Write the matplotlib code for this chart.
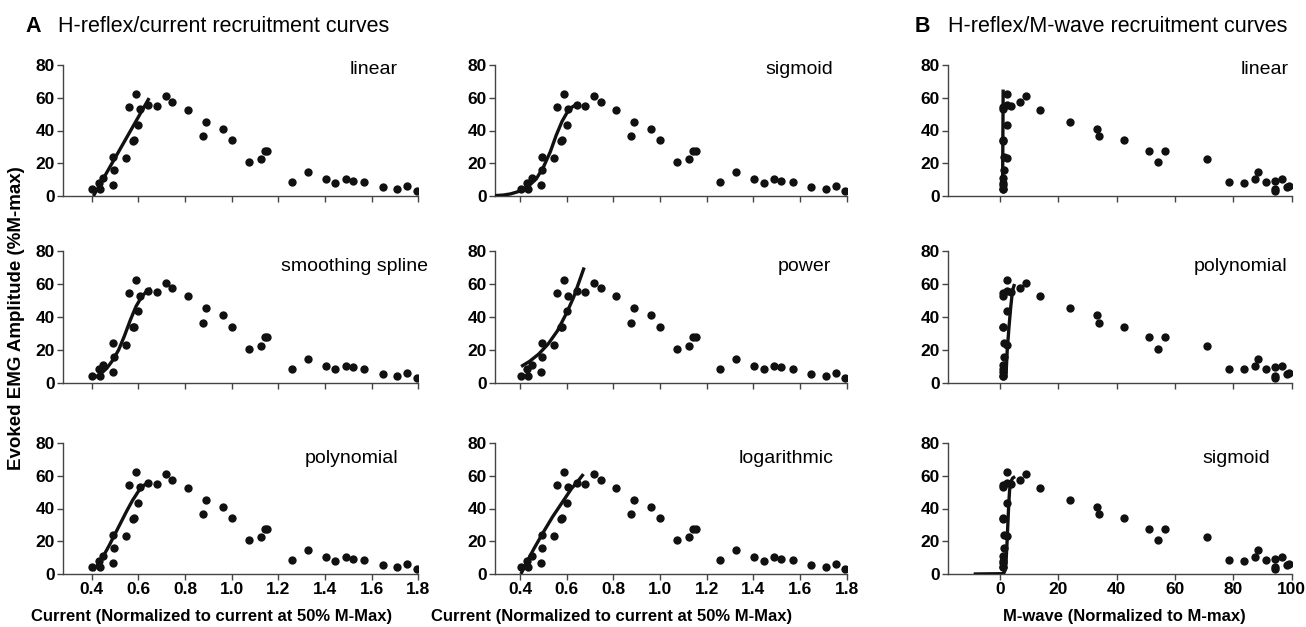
import numpy as np
from matplotlib import pyplot as plt

plt.rcParams['font.family'] = ['Liberation Sans', 'DejaVu Sans']

# --- data ---
current = [0.403, 0.436, 0.431, 0.45, 0.489, 0.493, 0.496, 0.547, 0.56, 0.576,
           0.581, 0.589, 0.60, 0.607, 0.643, 0.679, 0.719, 0.746, 0.813, 0.877,
           0.889, 0.963, 1.0, 1.073, 1.124, 1.143, 1.153, 1.257, 1.326, 1.403,
           1.444, 1.489, 1.519, 1.569, 1.647, 1.71, 1.753, 1.793]
hreflex = [4.3, 4.3, 8.2, 11.0, 6.9, 24.1, 15.9, 23.3, 54.3, 33.7,
           34.1, 62.2, 43.5, 53.0, 55.7, 55.1, 60.8, 57.3, 52.7, 36.5,
           45.3, 41.0, 33.9, 20.8, 22.4, 27.6, 27.6, 8.6, 14.5, 10.4,
           8.2, 10.4, 9.4, 8.4, 5.5, 4.1, 6.3, 2.9]
mwave = [1.0, 1.1, 1.1, 1.0, 1.1, 1.4, 1.4, 2.5, 1.1, 1.0,
         1.1, 2.5, 2.5, 1.2, 2.5, 3.8, 9.1, 6.9, 13.7, 34.1,
         24.1, 33.3, 42.4, 54.3, 70.9, 51.2, 56.7, 78.6, 88.5, 87.3,
         83.5, 96.6, 94.3, 91.2, 98.3, 94.3, 99.0, 94.3]

# fitted curves (traced)
lin_a_x = [0.407, 0.646]
lin_a_y = [0.0, 59.8]
sig_a_x = [0.29, 0.33, 0.36, 0.40, 0.44, 0.47, 0.50, 0.53, 0.555, 0.58, 0.60, 0.625, 0.65]
sig_a_y = [0.2, 0.6, 1.3, 3.0, 6.5, 10.5, 17.5, 27.0, 37.0, 45.5, 50.5, 54.5, 56.5]
spl_a_x = [0.415, 0.44, 0.465, 0.49, 0.515, 0.54, 0.565, 0.59, 0.615, 0.64, 0.655]
spl_a_y = [3.5, 5.8, 9.0, 13.8, 20.0, 28.5, 38.0, 46.5, 52.5, 56.2, 57.3]
pow_a_x = [0.405, 0.44, 0.48, 0.52, 0.56, 0.60, 0.63, 0.655, 0.675]
pow_a_y = [10.0, 13.0, 17.5, 23.5, 31.5, 42.5, 52.0, 62.0, 70.0]
pol_a_x = [0.407, 0.43, 0.45, 0.475, 0.50, 0.525, 0.55, 0.575, 0.60, 0.625, 0.65]
pol_a_y = [2.0, 6.5, 11.0, 17.5, 24.5, 31.5, 38.5, 45.0, 50.5, 54.3, 56.2]
log_a_x = [0.404, 0.43, 0.46, 0.50, 0.54, 0.58, 0.62, 0.65, 0.672]
log_a_y = [0.0, 7.5, 15.5, 25.5, 35.0, 43.5, 52.0, 57.0, 61.0]
lin_b_x = [0.9, 1.1]
lin_b_y = [2.6, 65.0]
pol_b_x = [1.9, 2.1, 2.5, 3.1, 3.7, 4.3, 5.0]
pol_b_y = [3.6, 5.7, 19.8, 34.0, 46.0, 56.0, 60.0]
sig_b_x = [-9.0, 1.2, 1.7, 2.1, 2.4, 2.7, 3.0, 3.3, 3.7, 4.3, 5.2]
sig_b_y = [0.0, 0.2, 2.0, 8.0, 18.0, 30.0, 42.0, 51.0, 56.0, 58.5, 59.5]

cur_ticks = [0.4, 0.6, 0.8, 1.0, 1.2, 1.4, 1.6, 1.8]
cur_labels = ["0.4", "0.6", "0.8", "1.0", "1.2", "1.4", "1.6", "1.8"]
mw_ticks = [0, 20, 40, 60, 80, 100]
y_ticks = [0, 20, 40, 60, 80]

W, H = 1306, 627
fig = plt.figure(figsize=(W / 100, H / 100), dpi=100)

cols = [(63.3, 418.3, (0.278, 1.8)), (495, 846.7, (0.293, 1.8)), (948.3, 1291.7, (-17.7, 100))]
rows = [(65, 196), (251, 383), (443, 574)]

panels = [
    (0, 0, "linear", lin_a_x, lin_a_y, 0.875),
    (0, 1, "smoothing spline", spl_a_x, spl_a_y, 0.82),
    (0, 2, "polynomial", pol_a_x, pol_a_y, 0.813),
    (1, 0, "sigmoid", sig_a_x, sig_a_y, 0.864),
    (1, 1, "power", pow_a_x, pow_a_y, 0.88),
    (1, 2, "logarithmic", log_a_x, log_a_y, 0.827),
    (2, 0, "linear", lin_b_x, lin_b_y, 0.92),
    (2, 1, "polynomial", pol_b_x, pol_b_y, 0.85),
    (2, 2, "sigmoid", sig_b_x, sig_b_y, 0.838),
]

for c, r, name, fx, fy, tx in panels:
    x0, x1, xl = cols[c]
    top, bot = rows[r]
    ax = fig.add_axes([x0 / W, 1 - bot / H, (x1 - x0) / W, (bot - top) / H])
    xs = mwave if c == 2 else current
    ax.scatter(xs, hreflex, s=36, color="#111111", zorder=3, linewidths=0)
    ax.plot(fx, fy, color="#111111", lw=2.4, zorder=4, solid_capstyle="butt")
    ax.set_xlim(*xl)
    ax.set_ylim(0, 80)
    ax.set_yticks(y_ticks)
    ax.set_yticklabels([str(v) for v in y_ticks], fontweight="bold", fontsize=12.5)
    if c == 2:
        ax.set_xticks(mw_ticks)
        labs = [str(v) for v in mw_ticks]
    else:
        ax.set_xticks(cur_ticks)
        labs = cur_labels
    if r == 2:
        ax.set_xticklabels(labs, fontweight="bold", fontsize=12.5)
    else:
        ax.set_xticklabels([])
    for s in ["top", "right"]:
        ax.spines[s].set_visible(False)
    for s in ["left", "bottom"]:
        ax.spines[s].set_color("#444444")
        ax.spines[s].set_linewidth(1.0)
    ax.tick_params(length=4, width=1, color="#444444", pad=2)
    yb = 74.5 if r == 0 else 68
    ax.text(tx, yb, name, transform=ax.get_yaxis_transform(), ha="center",
            va="baseline", fontsize=14)

fig.text(25 / W, 1 - 32 / H, "A", fontsize=15.5, fontweight="bold", va="baseline")
fig.text(58 / W, 1 - 32 / H, "H-reflex/current recruitment curves", fontsize=15.5, va="baseline")
fig.text(915 / W, 1 - 32 / H, "B", fontsize=15.5, fontweight="bold", va="baseline")
fig.text(948 / W, 1 - 32 / H, "H-reflex/M-wave recruitment curves", fontsize=15.5, va="baseline")

fig.text(212 / W, 1 - 617 / H, "Current (Normalized to current at 50% M-Max)",
         fontsize=12, fontweight="bold", ha="center", va="center")
fig.text(612 / W, 1 - 617 / H, "Current (Normalized to current at 50% M-Max)",
         fontsize=12, fontweight="bold", ha="center", va="center")
fig.text(1124 / W, 1 - 617 / H, "M-wave (Normalized to M-max)",
         fontsize=12, fontweight="bold", ha="center", va="center")
fig.text(17 / W, 1 - 318 / H, "Evoked EMG Amplitude (%M-max)", rotation=90,
         fontsize=13.5, fontweight="bold", ha="center", va="center")

fig.savefig("out.png", dpi=100)
